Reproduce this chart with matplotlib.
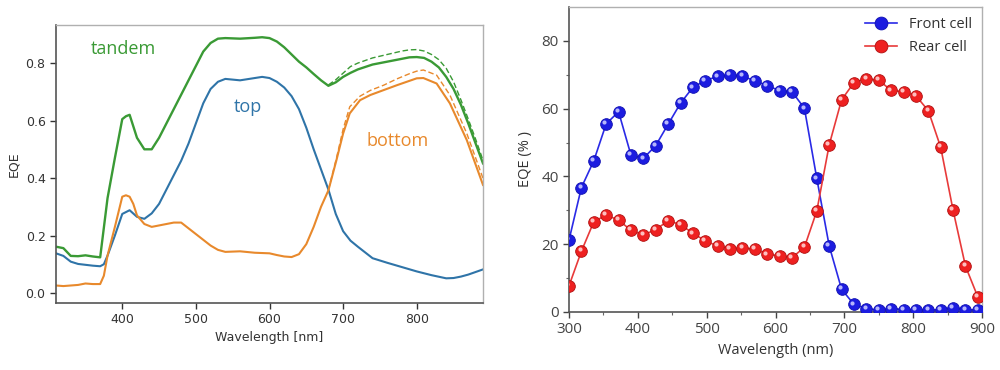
import matplotlib
matplotlib.use("Agg")
import matplotlib.pyplot as plt
from matplotlib.transforms import offset_copy

# ---------------- Left panel data ----------------
wl_tandem = [310, 320, 330, 340, 350, 360, 370, 380, 390, 400, 405, 410, 415, 420, 430, 440,
             450, 460, 470, 480, 490, 500, 510, 520, 530, 540, 560, 580, 590, 600, 610, 620,
             630, 640, 650, 660, 670, 680, 690, 700, 710, 720, 740, 760, 780, 790, 800, 810,
             820, 830, 840, 850, 860, 870, 880, 890]
eqe_tandem = [0.161, 0.156, 0.129, 0.128, 0.131, 0.127, 0.124, 0.33, 0.47, 0.605, 0.615, 0.62,
              0.58, 0.54, 0.50, 0.50, 0.54, 0.59, 0.64, 0.69, 0.74, 0.79, 0.84, 0.87, 0.885,
              0.887, 0.885, 0.888, 0.890, 0.887, 0.875, 0.855, 0.83, 0.805, 0.785, 0.762,
              0.74, 0.721, 0.733, 0.752, 0.766, 0.778, 0.795, 0.805, 0.815, 0.820, 0.821,
              0.818, 0.805, 0.785, 0.752, 0.71, 0.655, 0.59, 0.52, 0.451]

wl_tandem_d = [680, 690, 700, 710, 720, 740, 760, 780, 790, 800, 810, 820, 830, 840, 850, 860,
               870, 880, 890]
eqe_tandem_d = [0.724, 0.742, 0.765, 0.788, 0.800, 0.818, 0.830, 0.842, 0.846, 0.847, 0.842,
                0.830, 0.812, 0.782, 0.735, 0.672, 0.605, 0.535, 0.462]

wl_top = [310, 320, 330, 340, 350, 360, 370, 375, 380, 390, 400, 410, 420, 430, 440, 450, 460,
          470, 480, 490, 500, 510, 520, 530, 540, 560, 580, 590, 600, 610, 620, 630, 640, 650,
          660, 670, 680, 690, 700, 710, 720, 740, 760, 780, 800, 820, 840, 850, 860, 870, 880,
          890]
eqe_top = [0.138, 0.129, 0.109, 0.101, 0.098, 0.095, 0.093, 0.10, 0.13, 0.20, 0.275, 0.288,
           0.265, 0.258, 0.277, 0.31, 0.36, 0.41, 0.46, 0.52, 0.59, 0.66, 0.71, 0.735, 0.745,
           0.740, 0.748, 0.752, 0.748, 0.735, 0.715, 0.685, 0.64, 0.575, 0.50, 0.43, 0.36,
           0.275, 0.215, 0.182, 0.161, 0.121, 0.105, 0.09, 0.075, 0.062, 0.051, 0.052, 0.057,
           0.064, 0.073, 0.082]

wl_bottom = [310, 320, 330, 340, 350, 360, 370, 375, 380, 390, 400, 405, 410, 415, 420, 430,
             440, 450, 460, 470, 480, 490, 500, 510, 520, 530, 540, 560, 580, 600, 610, 620,
             630, 640, 650, 660, 670, 680, 691, 700, 709, 723, 737, 755, 773, 800, 809, 827,
             845, 868, 890]
eqe_bottom = [0.026, 0.024, 0.026, 0.028, 0.033, 0.031, 0.031, 0.06, 0.13, 0.23, 0.335, 0.34,
              0.335, 0.31, 0.27, 0.24, 0.23, 0.235, 0.24, 0.245, 0.245, 0.225, 0.205, 0.185,
              0.165, 0.15, 0.143, 0.145, 0.14, 0.138, 0.132, 0.127, 0.125, 0.135, 0.17, 0.23,
              0.30, 0.357, 0.463, 0.555, 0.625, 0.671, 0.689, 0.706, 0.723, 0.747, 0.748,
              0.729, 0.66, 0.532, 0.376]

wl_bottom_d = [680, 691, 700, 709, 723, 737, 755, 773, 791, 800, 809, 827, 845, 868, 890]
eqe_bottom_d = [0.358, 0.47, 0.57, 0.648, 0.685, 0.705, 0.723, 0.745, 0.764, 0.772, 0.776,
                0.758, 0.689, 0.555, 0.399]

# ---------------- Right panel data ----------------
wl_cells = [300, 318, 336, 354, 372, 390, 408, 426, 444, 462, 480, 498, 516, 534, 552, 570, 588,
            606, 624, 642, 660, 678, 696, 714, 732, 750, 768, 786, 804, 822, 840, 858, 876, 894]
eqe_front = [21.2, 36.7, 44.6, 55.5, 59.1, 46.3, 45.3, 49.1, 55.4, 61.6, 66.3, 68.3, 69.5, 70.0,
             69.6, 68.2, 66.8, 65.3, 65.0, 60.1, 39.4, 19.5, 6.7, 2.2, 1.0, 0.5, 1.0, 0.7, 0.7,
             0.6, 0.6, 1.3, 0.6, 0.6]
eqe_rear = [7.7, 17.9, 26.6, 28.6, 27.1, 24.1, 22.7, 24.3, 26.9, 25.8, 23.2, 21.0, 19.4, 18.7,
            18.8, 18.6, 17.0, 16.6, 16.0, 19.1, 29.8, 49.3, 62.6, 67.7, 68.8, 68.4, 65.4, 65.0,
            63.8, 59.4, 48.6, 30.0, 13.5, 4.4]

left_xticks = [400, 500, 600, 700, 800]
left_yticks = [0.0, 0.2, 0.4, 0.6, 0.8]
right_xticks = [300, 400, 500, 600, 700, 800, 900]
right_yticks = [0, 20, 40, 60, 80]

C_GREEN = "#3a9a35"
C_BLUE = "#2f74a8"
C_ORANGE = "#e8892c"

fig = plt.figure(figsize=(10, 3.7), dpi=100)
fig.patch.set_facecolor("white")

# ---------------- Left axes ----------------
ax1 = fig.add_axes([0.056, 0.181, 0.427, 0.751])
ax1.plot(wl_tandem_d, eqe_tandem_d, color=C_GREEN, lw=1.0, ls=(0, (4, 2)))
ax1.plot(wl_bottom_d, eqe_bottom_d, color=C_ORANGE, lw=1.0, ls=(0, (4, 2)))
ax1.plot(wl_tandem, eqe_tandem, color=C_GREEN, lw=1.7)
ax1.plot(wl_top, eqe_top, color=C_BLUE, lw=1.5)
ax1.plot(wl_bottom, eqe_bottom, color=C_ORANGE, lw=1.5)
ax1.set_xlim(310, 890)
ax1.set_ylim(-0.035, 0.932)
ax1.set_xticks(left_xticks)
ax1.set_yticks(left_yticks)
ax1.set_yticklabels([f"{v:.1f}" for v in left_yticks])
ax1.tick_params(labelsize=9, colors="#333333", length=4, width=1.0, direction="out")
ax1.set_xlabel("Wavelength [nm]", fontsize=9, color="#333333", labelpad=3)
ax1.set_ylabel("EQE", fontsize=9, color="#333333", labelpad=4)
for s in ["left", "bottom"]:
    ax1.spines[s].set_color("#555555")
    ax1.spines[s].set_linewidth(1.2)
for s in ["top", "right"]:
    ax1.spines[s].set_color("#b0b0b0")
    ax1.spines[s].set_linewidth(1.0)
ann_font = ["Open Sans", "DejaVu Sans"]
ax1.text(357, 0.849, "tandem", color=C_GREEN, fontsize=13, family=ann_font, va="center", ha="left")
ax1.text(570, 0.647, "top", color=C_BLUE, fontsize=13, family=ann_font, va="center", ha="center")
ax1.text(774, 0.529, "bottom", color=C_ORANGE, fontsize=13, family=ann_font, va="center", ha="center")

# ---------------- Right axes ----------------
ax2 = fig.add_axes([0.569, 0.157, 0.413, 0.824])
rfont = ["Open Sans", "DejaVu Sans"]
hl = offset_copy(ax2.transData, fig=fig, x=-1.3, y=1.3, units="points")
ax2.plot(wl_cells, eqe_front, color="#2a2ae6", lw=1.2, marker="o", ms=8.4,
         mfc="#1c1ce0", mec="#1010b0", mew=0.6, label="Front cell", zorder=3)
ax2.plot(wl_cells, eqe_rear, color="#e83a3a", lw=1.2, marker="o", ms=8.4,
         mfc="#ee2020", mec="#b01010", mew=0.6, label="Rear cell", zorder=3)
ax2.plot(wl_cells, eqe_front, ls="none", marker="o", ms=3.0, mfc="#c8c8ff", mec="none",
         alpha=0.9, transform=hl, zorder=4)
ax2.plot(wl_cells, eqe_rear, ls="none", marker="o", ms=3.0, mfc="#ffd0d0", mec="none",
         alpha=0.9, transform=hl, zorder=4)
ax2.set_xlim(300, 900)
ax2.set_ylim(0, 90)
ax2.set_xticks(right_xticks)
ax2.set_yticks(right_yticks)
ax2.set_xticks([350, 450, 550, 650, 750, 850], minor=True)
ax2.set_yticks([10, 30, 50, 70], minor=True)
ax2.tick_params(which="major", length=4, width=1.0, colors="#444444", labelsize=11,
                direction="out")
ax2.tick_params(which="minor", length=2.5, width=0.8, colors="#666666", direction="out")
for lab in ax2.get_xticklabels() + ax2.get_yticklabels():
    lab.set_family(rfont)
ax2.set_xlabel("Wavelength (nm)", fontsize=10.5, color="#333333", family=rfont, labelpad=4)
ax2.set_ylabel("EQE (% )", fontsize=10.5, color="#333333", family=rfont, labelpad=6)
for s in ["left", "bottom"]:
    ax2.spines[s].set_color("#555555")
    ax2.spines[s].set_linewidth(1.2)
for s in ["top", "right"]:
    ax2.spines[s].set_color("#b0b0b0")
    ax2.spines[s].set_linewidth(1.0)
leg = ax2.legend(loc="upper right", frameon=False, fontsize=10.5, handlelength=2.2,
                 borderaxespad=0.3, labelspacing=0.55, markerscale=1.1,
                 prop={"family": rfont, "size": 10.5})
for t in leg.get_texts():
    t.set_color("#333333")

fig.savefig("out.png", dpi=100)
